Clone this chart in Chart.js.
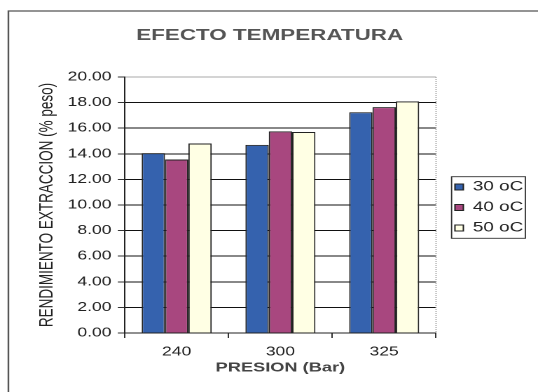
<!DOCTYPE html>
<html>
<head>
<meta charset="utf-8">
<script src="https://cdn.jsdelivr.net/npm/chart.js@4/dist/chart.umd.min.js"></script>
<style>
  html, body { margin: 0; padding: 0; background: #fff; }
  /* the scanned original is wider than tall, so the chart is drawn narrow and stretched */
  #wrap { width: 384px; height: 392px; transform: scaleX(1.401); transform-origin: 0 0; }
</style>
</head>
<body>
<div id="wrap"><canvas id="chart" width="384" height="392"></canvas></div>
<script>
/* ========= DATA ========= */
const presiones = ["240", "300", "325"];
const t30 = [14.05, 14.70, 17.25];
const t40 = [13.55, 15.75, 17.65];
const t50 = [14.80, 15.70, 18.10];
const yTicks = [0, 2, 4, 6, 8, 10, 12, 14, 16, 18, 20];

const FONT = "'Liberation Sans', Arial, sans-serif";

/* ========= EXTRA DRAWING: frame, plot border, legend box ========= */
const framePlugin = {
  id: "frame",
  afterLayout(chart) {
    // move the legend a bit away from the plot
    chart.legend.left += 6.5;
    chart.legend.right += 6.5;
    chart.legend.top += 2.5;
    chart.legend.bottom += 2.5;
  },
  beforeDraw(chart) {
    const ctx = chart.ctx;
    ctx.save();
    ctx.fillStyle = "#fff";
    ctx.fillRect(0, 0, chart.width, chart.height);
    ctx.restore();
  },
  afterDraw(chart) {
    const ctx = chart.ctx;
    const a = chart.chartArea;
    ctx.save();
    // outer frame
    ctx.strokeStyle = "#555";
    ctx.lineWidth = 1.2;
    ctx.beginPath();
    ctx.moveTo(6, chart.height);
    ctx.lineTo(6, 11);
    ctx.lineTo(chart.width, 11);
    ctx.stroke();
    // plot right border
    ctx.strokeStyle = "#999";
    ctx.lineWidth = 0.8;
    ctx.setLineDash([1, 1]);
    ctx.beginPath();
    ctx.moveTo(a.right, a.top);
    ctx.lineTo(a.right, a.bottom);
    ctx.stroke();
    ctx.setLineDash([]);
    // legend box
    const lg = chart.legend;
    const x0 = lg.left + 7 - 2.4;
    const yc = (lg.top + lg.bottom) / 2;
    ctx.strokeStyle = "#333";
    ctx.lineWidth = 0.9;
    ctx.strokeRect(x0, yc - 30.8, 52.7, 61.6);
    ctx.restore();
  }
};

/* ========= CREATE CHART ========= */
new Chart(document.getElementById("chart"), {
  type: "bar",
  data: {
    labels: presiones,
    datasets: [
      { label: "30 oC", data: t30, backgroundColor: "#3562ae", borderColor: "#222", borderWidth: 1 },
      { label: "40 oC", data: t40, backgroundColor: "#a8477f", borderColor: "#222", borderWidth: 1 },
      { label: "50 oC", data: t50, backgroundColor: "#ffffe4", borderColor: "#222", borderWidth: 1 }
    ]
  },
  options: {
    responsive: false,
    animation: false,
    devicePixelRatio: 2,
    layout: { padding: { left: 8, right: 7, top: 0, bottom: 10 } },
    datasets: { bar: { categoryPercentage: 0.675, barPercentage: 1 } },
    plugins: {
      title: {
        display: true,
        text: "EFECTO TEMPERATURA",
        color: "#555",
        font: { family: FONT, size: 16, weight: "bold" },
        padding: { top: 26.2, bottom: 31.6 }
      },
      legend: {
        position: "right",
        fullSize: false,
        labels: {
          color: "#222",
          font: { family: FONT, size: 13.5 },
          boxWidth: 6,
          boxHeight: 6,
          padding: 7
        }
      },
      tooltip: { enabled: false }
    },
    scales: {
      x: {
        grid: { display: true, drawOnChartArea: false, offset: true, tickLength: 5, color: "#333" },
        border: { color: "#222", width: 1 },
        ticks: { color: "#222", font: { family: FONT, size: 12.5 }, padding: 6.5 },
        title: {
          display: true,
          text: "PRESION (Bar)",
          color: "#444",
          font: { family: FONT, size: 13, weight: "bold" },
          padding: { top: -5.8, bottom: 6.2 }
        }
      },
      y: {
        min: 0,
        max: 20,
        afterBuildTicks(scale) { scale.ticks = yTicks.map(v => ({ value: v })); },
        grid: {
          color: ctx => (ctx.tick && ctx.tick.value === 20 ? "#aaa" : "#111"),
          tickColor: "#333",
          tickLength: 5,
          lineWidth: 1
        },
        border: { color: "#222", width: 1 },
        ticks: {
          color: "#222",
          font: { family: FONT, size: 12.5 },
          padding: 4.5,
          callback: v => Number(v).toFixed(2)
        },
        title: {
          display: true,
          text: "RENDIMIENTO EXTRACCION (% peso)",
          color: "#222",
          font: { family: FONT, size: 13.5 },
          padding: { top: 17.5, bottom: 2.1 }
        }
      }
    }
  },
  plugins: [framePlugin]
});
</script>
</body>
</html>
